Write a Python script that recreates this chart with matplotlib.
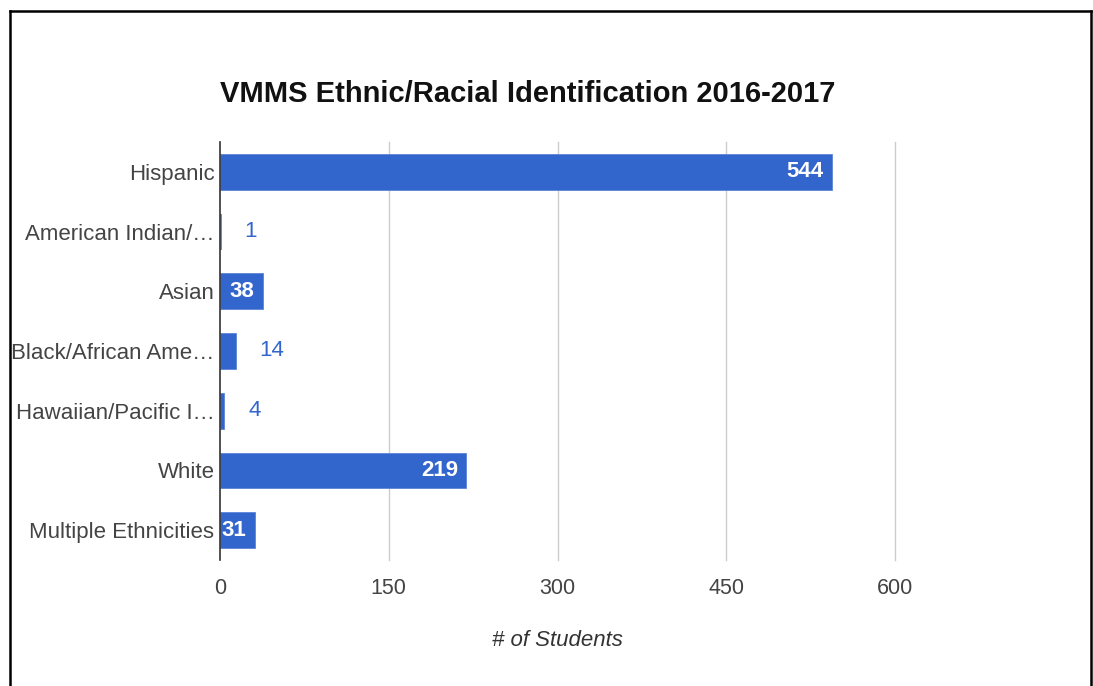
import matplotlib
matplotlib.use("Agg")
import matplotlib.pyplot as plt
from matplotlib.lines import Line2D

plt.rcParams['font.family'] = ['Liberation Sans', 'DejaVu Sans']

categories = ["Hispanic", "American Indian/…", "Asian", "Black/African Ame…",
              "Hawaiian/Pacific I…", "White", "Multiple Ethnicities"]
values = [544, 1, 38, 14, 4, 219, 31]
xticks = [0, 150, 300, 450, 600]
title = "VMMS Ethnic/Racial Identification 2016-2017"
xlabel = "# of Students"

W, H = 1093, 686
fig = plt.figure(figsize=(W / 100, H / 100), dpi=100)
left, right, top, bottom = 220, 895, 142, 560
ax = fig.add_axes([left / W, 1 - bottom / H, (right - left) / W, (bottom - top) / H])

bar_color = "#3366cc"
y = list(range(len(categories)))
ax.barh(y, values, height=0.6, color=bar_color, edgecolor="#5a85d6", linewidth=0.6, zorder=3)
ax.set_ylim(len(categories) - 0.5, -0.5)
ax.set_xlim(0, 600)
ax.set_yticks(y)
ax.set_yticklabels(categories, fontsize=16, color="#444444")
ax.set_xticks(xticks)
ax.set_xticklabels([str(t) for t in xticks], fontsize=15.5, color="#444444")
ax.tick_params(axis='y', length=0, pad=4)
ax.tick_params(axis='x', length=0, pad=13)

for s in ["top", "right", "bottom"]:
    ax.spines[s].set_visible(False)
ax.spines["left"].set_color("#333333")
ax.spines["left"].set_linewidth(1.2)
ax.spines["left"].set_zorder(4)
ax.set_axisbelow(True)
for t in xticks[1:]:
    ax.axvline(t, color="#cccccc", linewidth=1, zorder=0, clip_on=False)

for yi, v in zip(y, values):
    if v >= 25:
        ax.annotate(str(v), xy=(v, yi), xytext=(-6, 0), textcoords="offset points",
                    ha="right", va="center", color="white", fontsize=16,
                    fontweight="bold", zorder=5)
    else:
        ax.annotate(str(v), xy=(v, yi), xytext=(17, 0), textcoords="offset points",
                    ha="left", va="center", color=bar_color, fontsize=16, zorder=5)

fig.text(left / W, 1 - 94 / H, title, ha="left", va="center",
         fontsize=21, fontweight="bold", color="#111111")
fig.text((left + right) / 2 / W, 1 - 641 / H, xlabel, ha="center", va="center",
         fontsize=16, style="italic", color="#333333")

# outer frame (left, top, right)
fx0, fx1, fy0 = 9.5 / W, 1091 / W, 1 - 11 / H
fig.add_artist(Line2D([fx0, fx0], [0, fy0], transform=fig.transFigure, color="black", linewidth=1.8))
fig.add_artist(Line2D([fx0, fx1], [fy0, fy0], transform=fig.transFigure, color="black", linewidth=1.8))
fig.add_artist(Line2D([fx1, fx1], [0, fy0], transform=fig.transFigure, color="black", linewidth=1.8))

fig.savefig("out.png", dpi=100, facecolor="white")
